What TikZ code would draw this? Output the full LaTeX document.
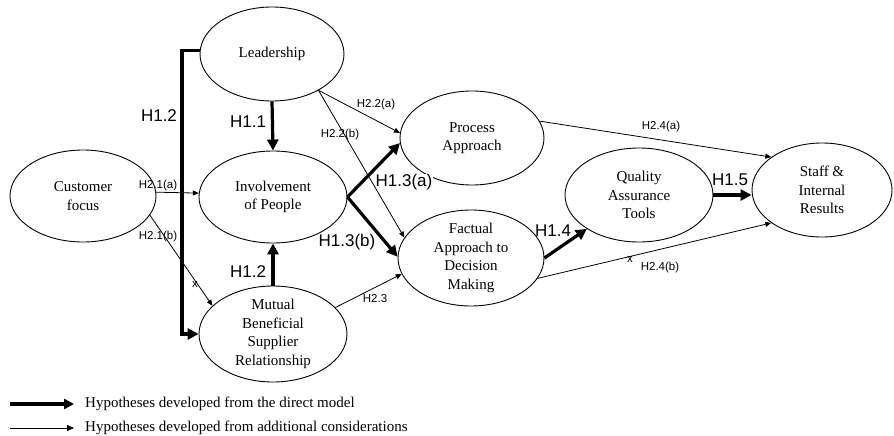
\documentclass[tikz,border=0pt]{standalone}
\usepackage{fontspec}
\setmainfont{Liberation Serif}
\setsansfont{Liberation Sans}
\usetikzlibrary{shapes.geometric,arrows.meta}
\begin{document}
\begin{tikzpicture}[x=1pt,y=-1pt,
  conc/.style={ellipse,draw,line width=0.9pt,inner sep=-8pt,align=center,
    font=\fontsize{15}{18.5}\selectfont},
  direct/.style={line width=3.2pt,-{Triangle[length=11pt,width=11pt]}},
  extra/.style={line width=0.8pt,-{Triangle[length=6pt,width=5pt]}},
  big/.style={font=\sffamily\fontsize{17}{17}\selectfont,inner sep=1pt},
  small/.style={font=\sffamily\fontsize{11.5}{12}\selectfont,inner sep=0.5pt},
  legend/.style={anchor=west,font=\fontsize{15}{18}\selectfont,inner sep=0pt}]
\useasboundingbox (0,0) rectangle (894,436);

% concepts
\node[conc,minimum width=146pt,minimum height=92pt] (cust) at (83,196) {Customer\\focus};
\node[conc,minimum width=144pt,minimum height=94pt] (lead) at (272,54) {Leadership};
\node[conc,minimum width=148pt,minimum height=92pt] (inv) at (273,197) {Involvement\\of People};
\node[conc,minimum width=148pt,minimum height=96pt] (mut) at (273,334) {Mutual\\Beneficial\\Supplier\\Relationship};
\node[conc,minimum width=144pt,minimum height=94pt] (proc) at (472,138) {Process\\Approach};
\node[conc,minimum width=146pt,minimum height=96pt] (fac) at (471,258) {Factual\\Approach to\\Decision\\Making};
\node[conc,minimum width=148pt,minimum height=94pt] (qa) at (639,195) {Quality\\Assurance\\Tools};
\node[conc,minimum width=140pt,minimum height=94pt] (staff) at (822,190) {Staff \&\\Internal\\Results};

% label that covers the Process Approach outline
\node[big,fill=white,inner sep=0.5pt] (l13a) at (404,182) {H1.3(a)};

% direct-model hypotheses
\coordinate (bend) at (182,0);
\draw[direct] (lead.177) -| (bend |- mut.west) -- (mut.west);
\draw[direct] (lead.south) -- (inv.north);
\draw[direct] (mut.north) -- (inv.south);
\draw[direct] (inv.east) -- (proc.184);
\draw[direct] (inv.east) -- (fac.179);
\draw[direct] (fac.east) -- (qa.213);
\draw[direct] (qa.east) -- (qa.east -| staff.west);

% additional hypotheses
\draw[extra] (cust.3) -- (inv.177);
\draw[extra] (cust.-16) -- (mut.155);
\draw[extra] (lead.-38) -- (proc.176);
\draw[extra] (lead.-38) -- (fac.163);
\draw[extra] (mut.23) -- (fac.193);
\draw[extra] (proc.14) -- (staff.147);
\draw[extra] (fac.-17) -- (staff.213);

% labels
\node[big] (l12a) at (159,116) {H1.2};
\node[big] (l11) at (248,122) {H1.1};
\node[big] (l12b) at (248,272) {H1.2};
\node[big] (l13b) at (347,242) {H1.3(b)};
\node[big] (l14) at (553,231) {H1.4};
\node[big] (l15) at (730,180) {H1.5};
\node[small] (l21a) at (158,186) {H2.1(a)};
\node[small] (l21b) at (158,237) {H2.1(b)};
\node[small] (x1) at (195,284) {x};
\node[small] (l22a) at (376,105) {H2.2(a)};
\node[small] (l22b) at (340,135) {H2.2(b)};
\node[small] (l23) at (375,299) {H2.3};
\node[small] (l24a) at (661,127) {H2.4(a)};
\node[small] (x2) at (630,259) {x};
\node[small] (l24b) at (660,268) {H2.4(b)};

% legend
\coordinate (la1) at (10,404);
\coordinate (lb1) at (74,404);
\coordinate (la2) at (10,428);
\coordinate (lb2) at (74,428);
\draw[direct,line width=3.6pt,-{Triangle[length=10pt,width=10pt]}] (la1) -- (lb1);
\draw[extra,-{Triangle[length=7pt,width=6pt]}] (la2) -- (lb2);
\node[legend] (t1) at (85,404) {Hypotheses developed from the direct model};
\node[legend] (t2) at (85,428) {Hypotheses developed from additional considerations};
\end{tikzpicture}
\end{document}
